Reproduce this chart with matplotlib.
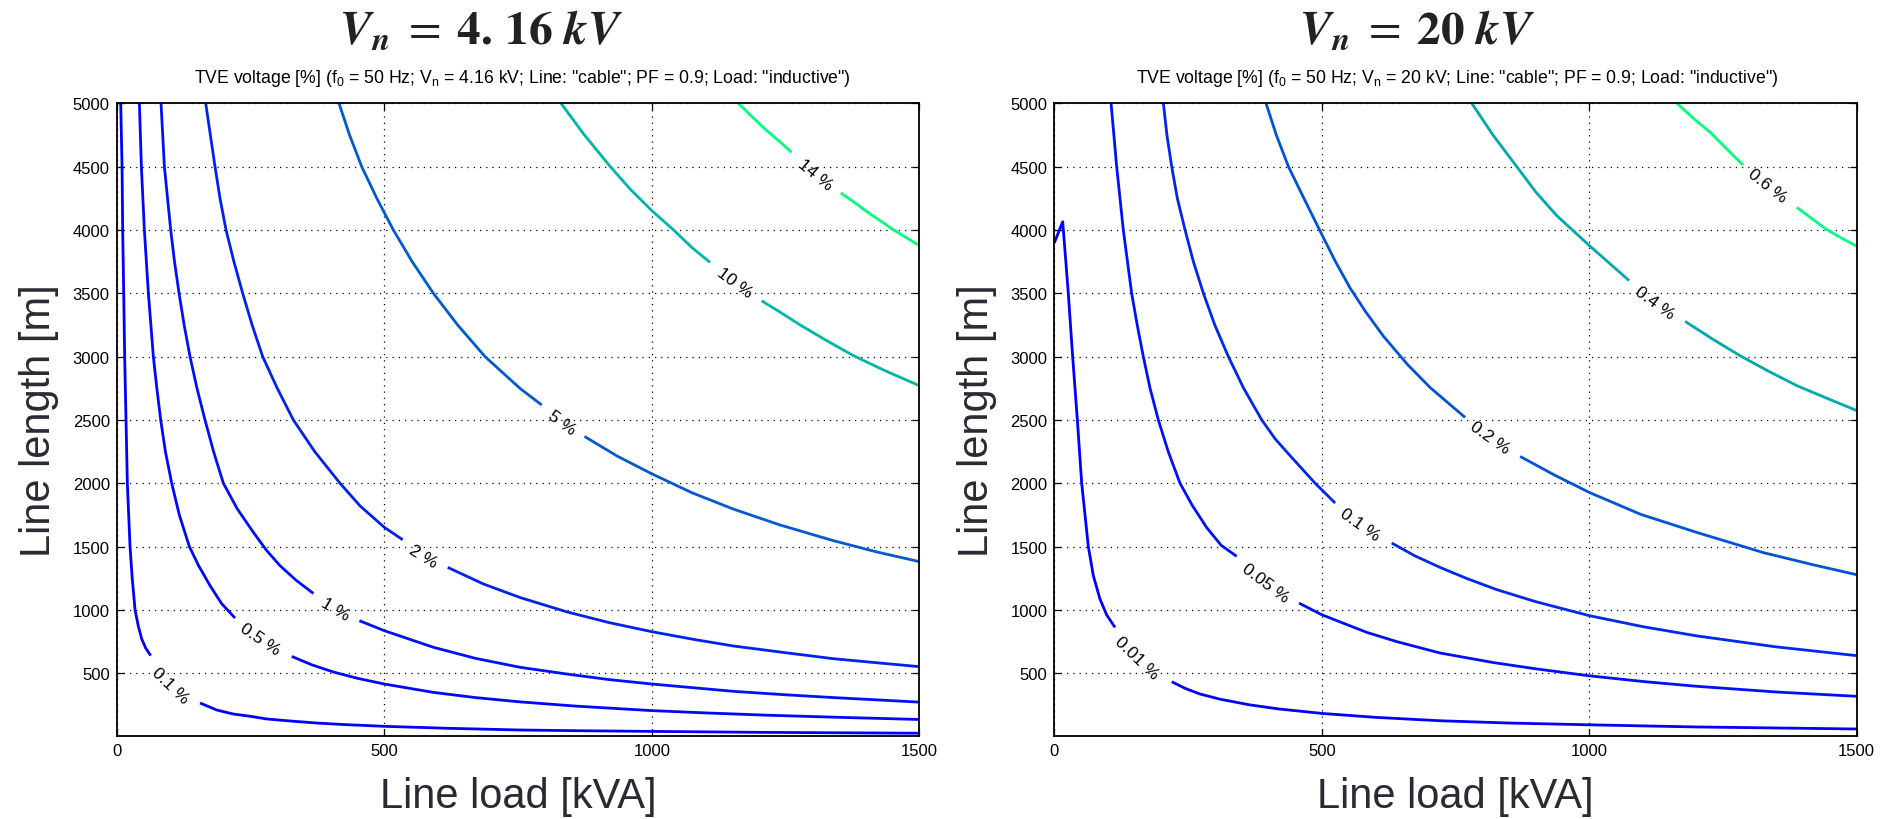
import numpy as np
import matplotlib
matplotlib.use("Agg")
import matplotlib.pyplot as plt
from matplotlib import cm
from matplotlib.colors import Normalize

# contour lines: x = line load [kVA], y = line length [m]
# every line is split in two parts (a / b) where its label sits

# ---- Vn = 4.16 kV
lv_416 = [0.1, 0.5, 1, 2, 5, 10, 14]
xa_416 = [
    [7.5, 10.0, 11.2, 13.1, 14.9, 17.4, 19.9, 24.9, 29.0, 34.3, 40.0, 46.7, 54.0, 63.5],
    [42.4, 46.1, 51.7, 59.2, 68.5, 75, 82.2, 91, 102.8, 117, 135.8, 153, 174.4, 196, 221.1],
    [82.8, 89.1, 95, 100.9, 108, 116.5, 126, 137.0, 150, 165.0, 181, 199.3, 225, 255.4,
     280, 305.2, 335, 367.5],
    [166.3, 175, 183.7, 193, 204.3, 219, 235.4, 253, 272.8, 300, 330.1, 370, 417.3, 455,
     500.1, 534.4],
    [415.4, 435, 457.8, 486, 516.9, 552, 591.7, 637, 688.2, 753.6, 794.1],
    [830.2, 872, 921.8, 960, 1000, 1040, 1075, 1108.6],
    [1161.5, 1188, 1214.5, 1238, 1261],
]
ya_416 = [
    [5000, 4500, 4000, 3500, 3000, 2500, 2000, 1500, 1250, 1000, 880, 771, 700, 639],
    [5000, 4500, 4000, 3500, 3000, 2750, 2500, 2250, 2000, 1750, 1500, 1350, 1192, 1050, 936],
    [5000, 4500, 4250, 4000, 3750, 3500, 3250, 3000, 2750, 2500, 2250, 2000, 1800, 1612,
     1470, 1349, 1235, 1130],
    [5000, 4750, 4500, 4250, 4000, 3750, 3500, 3250, 3000, 2750, 2500, 2250, 2000, 1820,
     1652, 1554],
    [5000, 4750, 4500, 4250, 4000, 3750, 3500, 3250, 3000, 2749, 2618],
    [5000, 4760, 4502, 4320, 4152, 4002, 3860, 3744],
    [5000, 4890, 4785, 4700, 4613],
]
xb_416 = [
    [155.7, 186.8, 218.0, 250, 280.3, 330, 373.7, 420, 500.1, 622.8, 753.6, 870, 1000, 1200, 1500],
    [327.0, 365, 404.8, 450, 500.1, 591.7, 670, 753.6, 860, 1000, 1100, 1214, 1350, 1500],
    [453.4, 500.1, 591.7, 670, 753.6, 840.8, 920, 1000, 1153, 1250, 1339, 1420, 1500],
    [618.5, 685.1, 753.6, 840.8, 920, 1000, 1080, 1153, 1250, 1339, 1420, 1500],
    [874, 935, 1000.6, 1075, 1152.9, 1240, 1339, 1420, 1500],
    [1205, 1240, 1277, 1325, 1376.8, 1435, 1500],
    [1352.8, 1376, 1401.3, 1426, 1451, 1475, 1500],
]
yb_416 = [
    [265, 210, 178, 160, 139, 121, 107, 96, 81, 65, 52, 46, 41, 33.5, 26.5],
    [633, 566, 510, 460, 415, 349, 308, 274, 240, 205, 187, 169, 152, 135],
    [915, 836, 705, 618, 547, 494, 450, 415, 357, 330, 308, 290, 272],
    [1336, 1205, 1098, 985, 900, 828, 766, 715, 662, 615, 583, 552],
    [2370, 2215, 2073, 1925, 1795, 1670, 1547, 1458, 1381],
    [3441, 3350, 3250, 3130, 3007, 2890, 2770],
    [4292, 4225, 4145, 4075, 4002, 3940, 3876],
]
labx_416 = [99.7, 267.8, 408, 571.7, 831.5, 1155.3, 1304.8]
laby_416 = [407, 770, 1007, 1428, 2481, 3586, 4442]
labs_416 = ["0.1 %", "0.5 %", "1 %", "2 %", "5 %", "10 %", "14 %"]

# ---- Vn = 20 kV
lv_20 = [0.01, 0.05, 0.1, 0.2, 0.4, 0.6]
xa_20 = [
    [0, 15.7, 26.2, 34.3, 43.1, 51.2, 63.6, 73, 85.4, 98, 113.5],
    [106.1, 116.6, 129, 144.6, 155, 166.4, 179, 194.5, 213, 235, 258, 284.9, 312, 341],
    [203.9, 210.5, 219.5, 230, 244.4, 260, 278.7, 300, 325.4, 354, 387.8, 413, 440.8,
     487.6, 525],
    [395.8, 415, 437.7, 466, 500, 525, 553, 582, 615.3, 660, 702.5, 767.9],
    [780.4, 820, 864.5, 900, 939.3, 1000.4, 1037, 1074.6],
    [1163.8, 1195, 1226.2, 1257, 1287.2],
]
ya_20 = [
    [3897, 4065, 3500, 3000, 2500, 2000, 1500, 1270, 1086, 960, 862],
    [5000, 4500, 4000, 3500, 3250, 3000, 2750, 2500, 2250, 2000, 1825, 1650, 1510, 1423],
    [5000, 4750, 4500, 4250, 4000, 3750, 3500, 3250, 3000, 2750, 2500, 2350, 2218,
     2000, 1844],
    [5000, 4750, 4500, 4255, 3965, 3755, 3541, 3354, 3161, 2939, 2756, 2520],
    [5000, 4750, 4500, 4300, 4113, 3876, 3740, 3600],
    [5000, 4880, 4771, 4640, 4513],
]
xb_20 = [
    [219.5, 245, 272.5, 310, 366, 420, 500, 600, 721, 850, 1000, 1200, 1500],
    [457.5, 500, 584, 640, 721, 820, 900, 1000, 1100, 1201, 1350, 1500],
    [630.8, 675, 721, 770, 827.2, 900, 1000, 1100, 1201, 1350, 1500],
    [870.8, 935, 1000, 1096, 1201, 1326, 1420, 1500],
    [1179.3, 1230, 1282, 1335, 1388, 1445, 1500],
    [1388.1, 1416, 1444.2, 1472, 1500],
]
yb_20 = [
    [433, 380, 336, 295, 250, 218, 183, 152, 125, 107, 93, 76, 60],
    [1054, 962, 823, 750, 660, 585, 535, 480, 435, 397, 352, 318],
    [1528, 1425, 1336, 1250, 1160, 1065, 955, 868, 795, 708, 639],
    [2212, 2065, 1928, 1755, 1612, 1452, 1355, 1278],
    [3278, 3140, 3007, 2885, 2771, 2670, 2574],
    [4178, 4090, 4002, 3935, 3871],
]
labx_20 = [154, 394, 571.6, 814.7, 1123, 1333.3]
laby_20 = [625, 1218, 1678, 2362, 3429, 4350]
labs_20 = ["0.01 %", "0.05 %", "0.1 %", "0.2 %", "0.4 %", "0.6 %"]

x_ticks = [0, 500, 1000, 1500]
y_ticks = [500, 1000, 1500, 2000, 2500, 3000, 3500, 4000, 4500, 5000]

plt.rcParams["font.family"] = ["Liberation Sans", "DejaVu Sans"]
plt.rcParams["mathtext.fontset"] = "custom"
plt.rcParams["mathtext.rm"] = "Liberation Sans"
plt.rcParams["mathtext.it"] = "Liberation Sans:italic"

W, H = 1893, 820
fig = plt.figure(figsize=(W / 100, H / 100), dpi=100)
bottom = 1 - 736.7 / H
height = (736.7 - 104.3) / H
axL = fig.add_axes([116.7 / W, bottom, (919.5 - 116.7) / W, height])
axR = fig.add_axes([1054.3 / W, bottom, (1856.7 - 1054.3) / W, height])

label_col = "#2a2a33"


def draw(ax, lv, xa, ya, xb, yb, labx, laby, labs):
    ax.set_xlim(0, 1500)
    ax.set_ylim(7, 5000)
    norm = Normalize(min(lv), max(lv))
    for i, v in enumerate(lv):
        c = cm.winter(norm(v))
        ax.plot(xa[i], ya[i], color=c, lw=2.0, solid_capstyle="butt", solid_joinstyle="round")
        ax.plot(xb[i], yb[i], color=c, lw=2.0, solid_capstyle="butt", solid_joinstyle="round")
        # label follows the direction of the gap it sits in
        p0 = ax.transData.transform((xa[i][-1], ya[i][-1]))
        p1 = ax.transData.transform((xb[i][0], yb[i][0]))
        ang = np.degrees(np.arctan2(p1[1] - p0[1], p1[0] - p0[0]))
        ax.text(labx[i], laby[i], labs[i], fontsize=12.5, rotation=ang,
                rotation_mode="anchor", ha="center", va="center", color="k")
    ax.set_xticks(x_ticks)
    ax.set_yticks(y_ticks)
    ax.grid(True, color="k", linestyle=(0, (1, 4)), linewidth=0.9)
    ax.tick_params(direction="in", top=True, right=True, length=5, width=0.9,
                   labelsize=12, pad=5)
    for s in ax.spines.values():
        s.set_linewidth(1.3)
    ax.set_xlabel("Line load [kVA]", fontsize=30, color=label_col)
    ax.set_ylabel("Line length [m]", fontsize=30, color=label_col)
    ax.xaxis.set_label_coords(0.5, -0.064)
    ax.xaxis.label.set_va("top")
    ax.yaxis.set_label_coords(-0.072, 0.5)


draw(axL, lv_416, xa_416, ya_416, xb_416, yb_416, labx_416, laby_416, labs_416)
draw(axR, lv_20, xa_20, ya_20, xb_20, yb_20, labx_20, laby_20, labs_20)

# big titles
fig.text(481 / W, 1 - 43.3 / H, r"$\mathbfit{V_n}\;=\;\mathbf{4.\,16}\ \mathbfit{kV}$",
         ha="center", va="baseline", fontsize=34, math_fontfamily="stix", color="#222")
fig.text(1417 / W, 1 - 43.3 / H, r"$\mathbfit{V_n}\;=\;\mathbf{20}\ \mathbfit{kV}$",
         ha="center", va="baseline", fontsize=34, math_fontfamily="stix", color="#222")

sub = 'TVE voltage [%] (f$_0$ = 50 Hz; V$_\\mathrm{{n}}$ = {} kV; Line: "cable"; PF = 0.9; Load: "inductive")'
fig.text(522.5 / W, 1 - 82.7 / H, sub.format("4.16"), ha="center", va="baseline",
         fontsize=12.7)
fig.text(1457 / W, 1 - 82.7 / H, sub.format("20"), ha="center", va="baseline",
         fontsize=12.7)

fig.savefig("out.png", dpi=100)
